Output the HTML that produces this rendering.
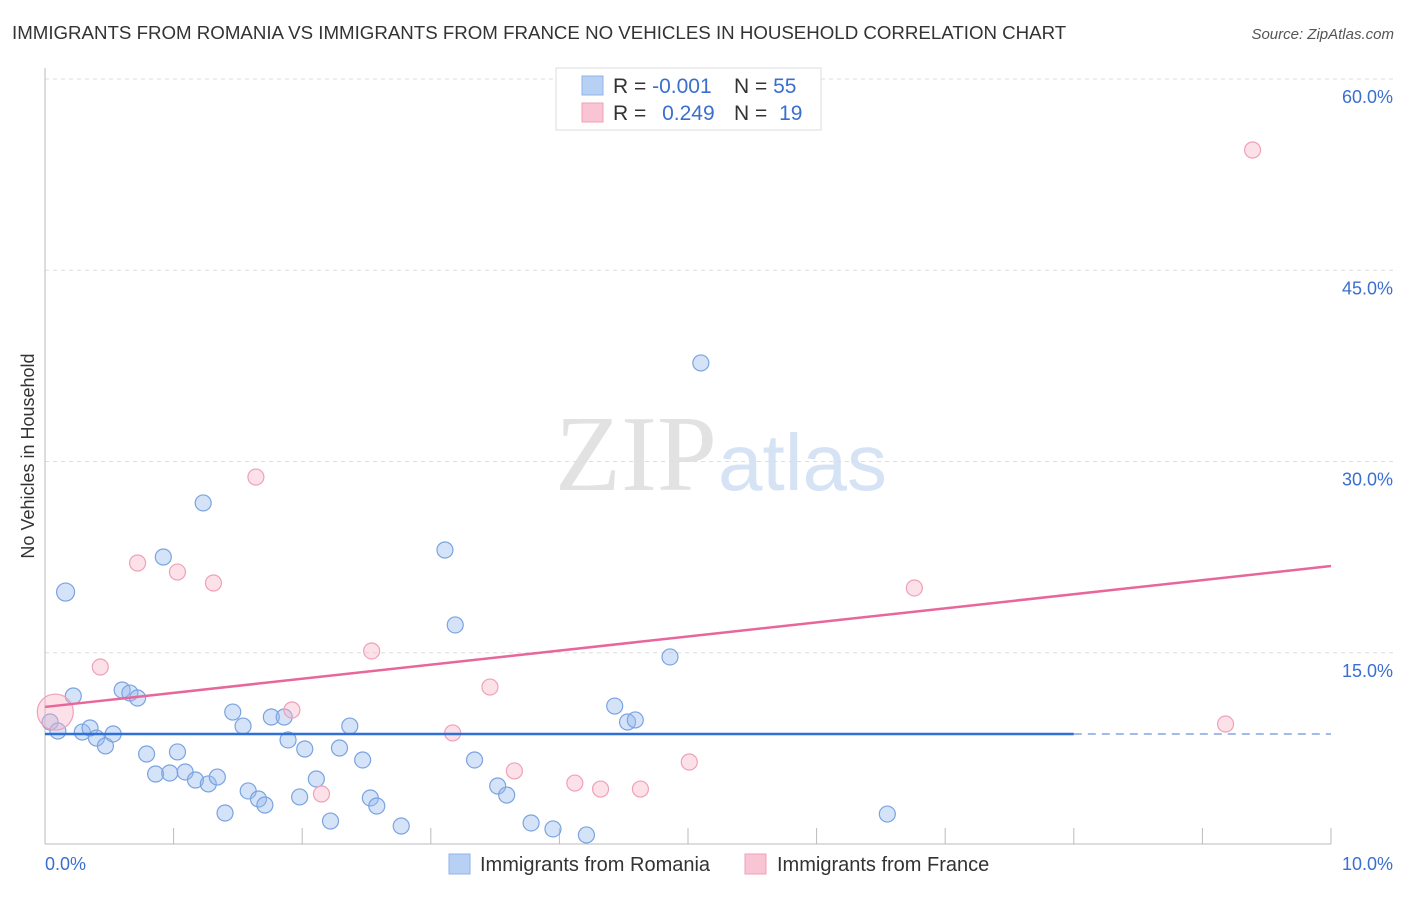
<!DOCTYPE html>
<html><head><meta charset="utf-8"><style>
body{margin:0;background:#fff;font-family:"Liberation Sans",sans-serif;}
svg text{font-family:"Liberation Sans",sans-serif;}
</style></head><body>
<svg id="chart" width="1406" height="892" xmlns="http://www.w3.org/2000/svg">
<text x="12" y="39" font-size="18.7" fill="#333">IMMIGRANTS FROM ROMANIA VS IMMIGRANTS FROM FRANCE NO VEHICLES IN HOUSEHOLD CORRELATION CHART</text>
<text x="1394" y="39" font-size="15" fill="#555" text-anchor="end" font-style="italic">Source: ZipAtlas.com</text>
<g>
<text x="555" y="490" font-size="108" fill="#e2e2e2" style="font-family:'Liberation Serif',serif">ZIP</text>
<text x="718" y="490" font-size="80" fill="#d6e3f5">atlas</text>
</g>
<g id="grid"></g>
<g id="axes"></g>
<g id="marks"></g>
<text transform="translate(34,456) rotate(-90)" font-size="18" fill="#333" text-anchor="middle">No Vehicles in Household</text>
<g>
<rect x="556" y="68" width="265" height="62" fill="#fff" stroke="#ddd"/>
<rect x="582" y="76" width="21" height="19" fill="#b8d0f4" stroke="#8fb3e8"/>
<rect x="582" y="103" width="21" height="19" fill="#f9c5d4" stroke="#f0a0b8"/>
<text x="613" y="93" font-size="21" fill="#333">R = <tspan fill="#3a6fd0">-0.001</tspan></text>
<text x="734" y="93" font-size="21" fill="#333">N = <tspan fill="#3a6fd0">55</tspan></text>
<text x="613" y="120" font-size="21" fill="#333">R = <tspan fill="#3a6fd0" dx="10">0.249</tspan></text>
<text x="734" y="120" font-size="21" fill="#333">N = <tspan fill="#3a6fd0" dx="6">19</tspan></text>
</g>
<g>
<rect x="449" y="854" width="21" height="20" fill="#b8d0f4" stroke="#8fb3e8"/>
<text x="480" y="871" font-size="20" fill="#333">Immigrants from Romania</text>
<rect x="745" y="854" width="21" height="20" fill="#f9c5d4" stroke="#f0a0b8"/>
<text x="777" y="871" font-size="20" fill="#333">Immigrants from France</text>
</g>
</svg>
<script>
const yTicks=[15,30,45,60];
const yTickLabels=["15.0%","30.0%","45.0%","60.0%"];
const xTickCount=[0,1,2,3,4,5,6,7,8,9,10];
const romaniaX=[0.04,0.10,0.16,0.22,0.29,0.35,0.40,0.47,0.53,0.60,0.66,0.72,0.79,0.86,0.92,0.97,1.03,1.09,1.17,1.23,1.27,1.34,1.40,1.46,1.54,1.58,1.66,1.71,1.76,1.86,1.89,1.98,2.02,2.11,2.22,2.29,2.37,2.47,2.53,2.58,2.77,3.11,3.19,3.34,3.52,3.59,3.78,3.95,4.21,4.43,4.53,4.59,4.86,5.10,6.55];
const romaniaY=[9.57,8.86,19.76,11.61,8.78,9.10,8.31,7.69,8.63,12.08,11.84,11.45,7.06,5.49,22.51,5.57,7.22,5.65,5.02,26.75,4.71,5.25,2.43,10.35,9.25,4.16,3.53,3.06,9.96,9.96,8.16,3.69,7.45,5.10,1.80,7.53,9.25,6.59,3.61,2.98,1.41,23.06,17.18,6.59,4.55,3.84,1.65,1.18,0.71,10.82,9.57,9.73,14.67,37.73,2.35];
const franceX=[0.08,0.43,0.72,1.03,1.31,1.64,1.92,2.15,2.54,3.17,3.46,3.65,4.12,4.32,4.63,5.01,6.76,9.18,9.39];
const franceY=[10.35,13.88,22.04,21.33,20.47,28.78,10.51,3.92,15.14,8.71,12.31,5.73,4.78,4.31,4.31,6.43,20.08,9.41,54.43];
const romaniaTrend=[8.63,8.63];
const franceTrend=[10.75,21.8];
const NS="http://www.w3.org/2000/svg";
const xs=v=>45+v*128.6, ys=v=>844-v*12.75;
function mk(tag,attrs,parent){const e=document.createElementNS(NS,tag);for(const k in attrs)e.setAttribute(k,attrs[k]);document.getElementById(parent).appendChild(e);return e;}
yTicks.forEach((t,i)=>{
 const g=mk('line',{x1:45,x2:1394,y1:ys(t),y2:ys(t),stroke:'#ddd','stroke-dasharray':'4,4'},'grid');
 
 
 const l=mk('text',{x:1393,y:ys(t)+24,'font-size':18,fill:'#3a6fd0','text-anchor':'end'},'axes');
 l.textContent=yTickLabels[i];
 
 
});
const ax=mk('line',{x1:45,x2:45,y1:68,y2:844,stroke:'#bbb'},'axes');


const bx=mk('line',{x1:45,x2:1331,y1:844,y2:844,stroke:'#bbb'},'axes');


xTickCount.forEach(t=>{
 const tk=mk('line',{x1:xs(t),x2:xs(t),y1:828,y2:844,stroke:'#bbb'},'axes');
 
 
});
const x0=mk('text',{x:45,y:870,'font-size':18,fill:'#3a6fd0'},'axes');x0.textContent='0.0%';


const x1=mk('text',{x:1393,y:870,'font-size':18,fill:'#3a6fd0','text-anchor':'end'},'axes');x1.textContent='10.0%';


romaniaX.forEach((v,i)=>{
 const c=mk('circle',{cx:xs(v),cy:ys(romaniaY[i]),r:i==2?9:8,fill:'rgba(150,185,240,0.4)',stroke:'#7aa3e0','stroke-width':1.2},'marks');
 
 
});
franceX.forEach((v,i)=>{
 const c=mk('circle',{cx:xs(v),cy:ys(franceY[i]),r:i==0?18:8,fill:'rgba(248,180,200,0.4)',stroke:'#f0a0b8','stroke-width':1.2},'marks');
 
 
});
const rt=mk('line',{x1:xs(0),x2:xs(8),y1:ys(romaniaTrend[0]),y2:ys(romaniaTrend[0]+(romaniaTrend[1]-romaniaTrend[0])*0.8),stroke:'#2f6fd6','stroke-width':2.5},'marks');


const rd=mk('line',{x1:xs(8),x2:xs(10),y1:ys(romaniaTrend[0]+(romaniaTrend[1]-romaniaTrend[0])*0.8),y2:ys(romaniaTrend[1]),stroke:'#6a95dd','stroke-width':1.2,'stroke-dasharray':'8,6'},'marks');


const ft=mk('line',{x1:xs(0),x2:xs(10),y1:ys(franceTrend[0]),y2:ys(franceTrend[1]),stroke:'#e8669a','stroke-width':2.5},'marks');


</script>
</body></html>
